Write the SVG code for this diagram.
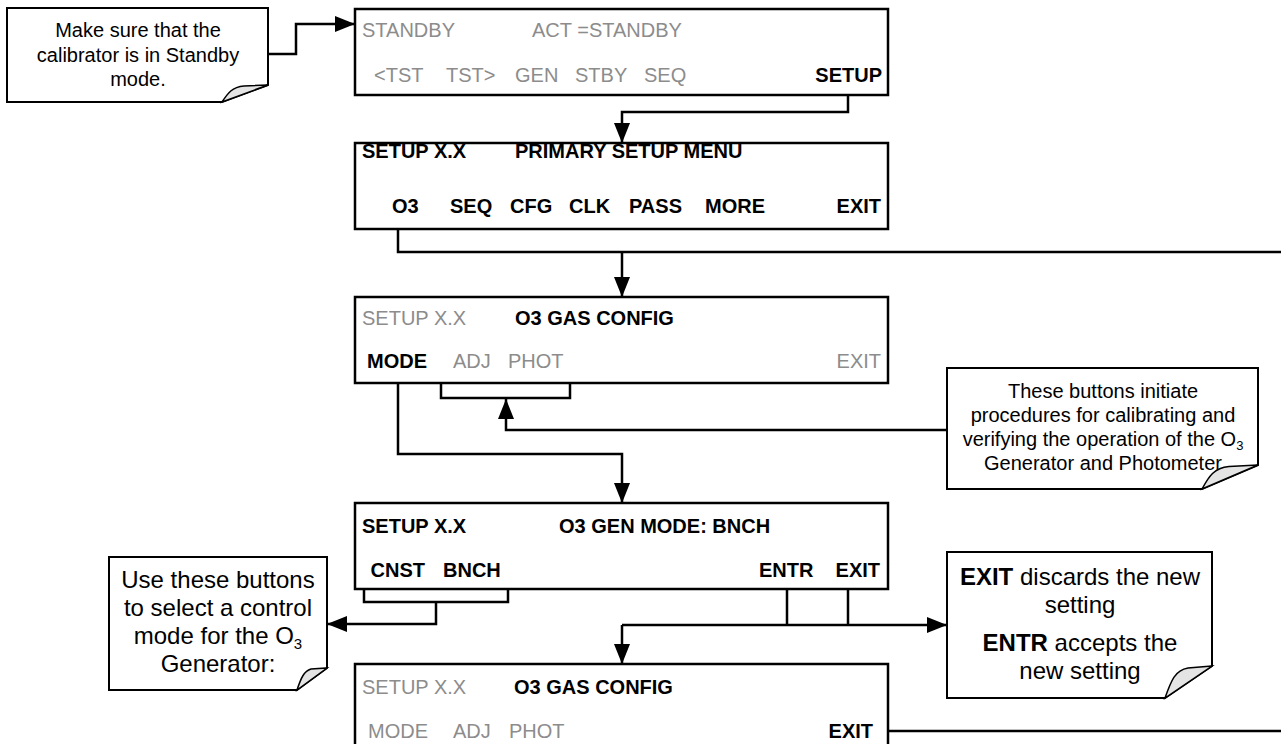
<svg xmlns="http://www.w3.org/2000/svg" width="1281" height="744" viewBox="0 0 1281 744">
<style>
  .box { fill: #fff; stroke: #000; stroke-width: 2.5; }
  .call { fill: #fff; stroke: #000; stroke-width: 2; stroke-linejoin: miter; }
  .curl { fill: #e4e4e4; stroke: #000; stroke-width: 1.5; }
  .t { font-family: "Liberation Sans", Arial, sans-serif; font-size: 20px; }
  .g { fill: #8c8c8c; }
  .k { fill: #000; }
  .b { font-weight: bold; }
  .ct { font-family: "Liberation Sans", Arial, sans-serif; fill: #000; text-anchor: middle; }
  .ln { fill: none; stroke: #000; stroke-width: 2.5; }
  .arr { fill: none; stroke: #000; stroke-width: 2.5; marker-end: url(#ah); }
</style>
<defs>
  <marker id="ah" markerUnits="userSpaceOnUse" markerWidth="22" markerHeight="18" refX="20" refY="8" orient="auto" viewBox="0 0 22 18">
    <path d="M0,0 L20,8 L0,16 Z" fill="#000"/>
  </marker>
</defs>
<rect width="1281" height="744" fill="#fff"/>

<g id="connectors">
  <path class="arr" d="M268,54 H296 V24 H355"/>
  <path class="arr" d="M848,87 V112 H622 V143"/>
  <path class="ln" d="M398,216 V252 H1281"/>
  <path class="arr" d="M622,252 V297"/>
  <path class="arr" d="M398,372 V454 H622 V503"/>
  <path class="ln" d="M441,371 V398 H570 V371"/>
  <path class="arr" d="M947,430 H506 V399"/>
  <path class="ln" d="M364,565 V602 H508 V565"/>
  <path class="arr" d="M436,602 V624 H327"/>
  <path class="ln" d="M787,581 V625 M848,582 V625"/>
  <path class="arr" d="M622,625 H947"/>
  <path class="arr" d="M622,625 V664"/>
  <path class="ln" d="M877,731 H1281"/>
</g>

<g id="callout-standby">
  <path class="call" d="M7,8 H268 V85 L222,102 H7 Z"/>
  <path class="curl" d="M222,102 C228,93 232,87 244,86 L268,85 Z"/>
  <text class="ct" font-size="20" x="138" y="37">Make sure that the</text>
  <text class="ct" font-size="20" x="138" y="61.5">calibrator is in Standby</text>
  <text class="ct" font-size="20" x="138" y="86">mode.</text>
</g>

<g id="box-standby">
  <rect class="box" x="355" y="9" width="533" height="86"/>
  <text class="t g" x="362" y="37">STANDBY</text>
  <text class="t g" x="532" y="37">ACT =STANDBY</text>
  <text class="t g" x="374" y="81.5">&lt;TST</text>
  <text class="t g" x="446" y="81.5">TST&gt;</text>
  <text class="t g" x="515" y="81.5">GEN</text>
  <text class="t g" x="575" y="81.5">STBY</text>
  <text class="t g" x="644" y="81.5">SEQ</text>
  <text class="t k b" x="882" y="81.5" text-anchor="end">SETUP</text>
</g>

<g id="box-primary-setup">
  <rect class="box" x="355" y="143" width="533" height="86"/>
  <text class="t k b" x="362" y="158">SETUP X.X</text>
  <text class="t k b" x="515" y="158">PRIMARY SETUP MENU</text>
  <text class="t k b" x="392" y="213">O3</text>
  <text class="t k b" x="450" y="213">SEQ</text>
  <text class="t k b" x="510" y="213">CFG</text>
  <text class="t k b" x="569" y="213">CLK</text>
  <text class="t k b" x="629" y="213">PASS</text>
  <text class="t k b" x="705" y="213">MORE</text>
  <text class="t k b" x="881" y="213" text-anchor="end">EXIT</text>
</g>

<g id="box-o3-gas-config">
  <rect class="box" x="355" y="297" width="533" height="86"/>
  <text class="t g" x="362" y="325">SETUP X.X</text>
  <text class="t k b" x="515" y="325">O3 GAS CONFIG</text>
  <text class="t k b" x="367" y="368">MODE</text>
  <text class="t g" x="453" y="368">ADJ</text>
  <text class="t g" x="508" y="368">PHOT</text>
  <text class="t g" x="881" y="368" text-anchor="end">EXIT</text>
</g>

<g id="callout-buttons">
  <path class="call" d="M947,368 H1258 V465 L1202,489 H947 Z"/>
  <text class="ct" font-size="20" x="1103" y="398">These buttons initiate</text>
  <text class="ct" font-size="20" x="1103" y="422">procedures for calibrating and</text>
  <text class="ct" font-size="20" x="1103" y="446">verifying the operation of the O<tspan font-size="13" dy="4">3</tspan></text>
  <text class="ct" font-size="20" x="1103" y="470">Generator and Photometer</text>
  <path class="curl" d="M1202,489 C1209,476 1214,468 1229,466.5 L1258,465 Z"/>
</g>

<g id="box-gen-mode">
  <rect class="box" x="355" y="503" width="533" height="86"/>
  <text class="t k b" x="362" y="533">SETUP X.X</text>
  <text class="t k b" x="559" y="533">O3 GEN MODE: BNCH</text>
  <text class="t k b" x="370.5" y="577">CNST</text>
  <text class="t k b" x="443" y="577">BNCH</text>
  <text class="t k b" x="759" y="577">ENTR</text>
  <text class="t k b" x="880" y="577" text-anchor="end">EXIT</text>
</g>

<g id="callout-control-mode">
  <path class="call" d="M109,557 H327 V668 L297,690 H109 Z"/>
  <path class="curl" d="M297,690 C301,678 304,671 311,669 L327,668 Z"/>
  <text class="ct" font-size="24" x="218" y="587.5">Use these buttons</text>
  <text class="ct" font-size="24" x="218" y="615.5">to select a control</text>
  <text class="ct" font-size="24" x="218" y="643.5">mode for the O<tspan font-size="15" dy="5">3</tspan></text>
  <text class="ct" font-size="24" x="218" y="671.5">Generator:</text>
</g>

<g id="callout-exit-entr">
  <path class="call" d="M947,552 H1212 V666 L1165,698 H947 Z"/>
  <path class="curl" d="M1165,698 C1171,681 1175,670 1188,668 L1212,666 Z"/>
  <text class="ct" font-size="24" x="1080" y="585"><tspan font-weight="bold">EXIT</tspan> discards the new</text>
  <text class="ct" font-size="24" x="1080" y="613">setting</text>
  <text class="ct" font-size="24" x="1080" y="651"><tspan font-weight="bold">ENTR</tspan> accepts the</text>
  <text class="ct" font-size="24" x="1080" y="679">new setting</text>
</g>

<g id="box-o3-gas-config-2">
  <rect class="box" x="355" y="664" width="533" height="95"/>
  <text class="t g" x="362" y="694">SETUP X.X</text>
  <text class="t k b" x="514" y="694">O3 GAS CONFIG</text>
  <text class="t g" x="368" y="738">MODE</text>
  <text class="t g" x="453" y="738">ADJ</text>
  <text class="t g" x="509" y="738">PHOT</text>
  <text class="t k b" x="873" y="738" text-anchor="end">EXIT</text>
</g>
</svg>
